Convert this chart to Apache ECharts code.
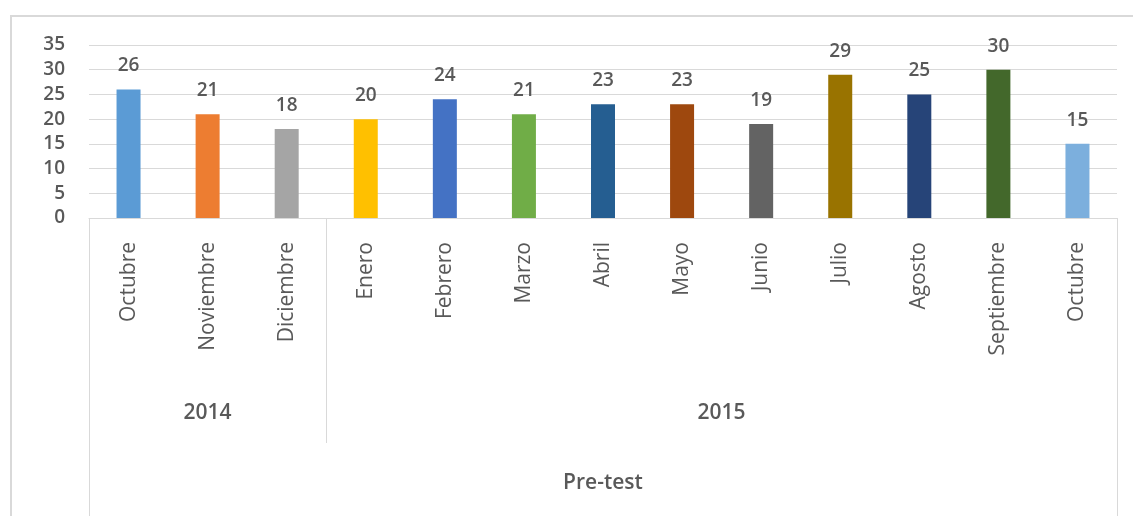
<!DOCTYPE html>
<html>
<head>
<meta charset="utf-8">
<script src="https://cdn.jsdelivr.net/npm/echarts@6/dist/echarts.min.js"></script>
<style>
html,body{margin:0;padding:0;background:#fff;}
#chart{width:1133px;height:516px;}
</style>
</head>
<body>
<div id="chart"></div>
<script>
const months = ['Octubre','Noviembre','Diciembre','Enero','Febrero','Marzo','Abril','Mayo','Junio','Julio','Agosto','Septiembre','Octubre'];
const values = [26, 21, 18, 20, 24, 21, 23, 23, 19, 29, 25, 30, 15];
const colors = ['#5B9BD5','#ED7D31','#A5A5A5','#FFC000','#4472C4','#70AD47','#255E91','#9E480E','#636363','#997300','#264478','#43682B','#7CAFDD'];
const years = ['2014','2015'];
const yearSpans = [3, 10];
const groupLabel = 'Pre-test';
const yTicks = [0, 5, 10, 15, 20, 25, 30, 35];

const FONT = '"Open Sans", sans-serif';
const TXT = '#595959';
const LINE = '#d9d9d9';

const chart = echarts.init(document.getElementById('chart'), null, {renderer: 'canvas'});
const option = {
  animation: false,
  backgroundColor: '#fff',
  grid: {left: 89, right: 16, top: 45, bottom: 298, containLabel: false},
  xAxis: {
    type: 'category',
    data: months,
    axisTick: {show: false},
    axisLine: {lineStyle: {color: LINE, width: 1}},
    axisLabel: {rotate: 90, margin: 24, fontSize: 21, color: TXT, fontFamily: FONT, interval: 0}
  },
  yAxis: {
    type: 'value',
    min: yTicks[0],
    max: yTicks[yTicks.length - 1],
    interval: 5,
    axisLine: {show: false},
    axisTick: {show: false},
    splitLine: {lineStyle: {color: LINE, width: 1}},
    axisLabel: {margin: 24, fontSize: 19, color: TXT, fontFamily: FONT, fontWeight: 600}
  },
  series: [{
    type: 'bar',
    barWidth: 24,
    data: values.map((v, i) => ({value: v, itemStyle: {color: colors[i]}})),
    label: {show: true, position: 'top', distance: 14, fontSize: 19, fontWeight: 600, color: TXT, fontFamily: FONT}
  }]
};
chart.setOption(option);

// hierarchical axis decorations positioned through the category scale
const px = i => chart.convertToPixel({xAxisIndex: 0}, i);
const bw = px(1) - px(0);
const edge = k => px(0) - bw / 2 + k * bw;
const y0 = chart.convertToPixel({yAxisIndex: 0}, 0);
const elements = [];
// outer chart border (top & left visible)
elements.push({type: 'rect', shape: {x: 11, y: 16, width: 1200, height: 600}, style: {fill: null, stroke: LINE, lineWidth: 2}, silent: true});
// group boundaries
let start = 0;
const bounds = [0];
yearSpans.forEach(s => { start += s; bounds.push(start); });
bounds.forEach((b, idx) => {
  const outer = idx === 0 || idx === bounds.length - 1;
  const x = Math.round(edge(b)) + 0.5;
  elements.push({type: 'line', shape: {x1: x, y1: y0, x2: x, y2: outer ? 516 : 443}, style: {stroke: LINE, lineWidth: 1}, silent: true});
});
years.forEach((yr, i) => {
  const cx = (edge(bounds[i]) + edge(bounds[i + 1])) / 2;
  elements.push({type: 'text', x: cx, y: 413, style: {text: yr, fill: TXT, font: '600 21px ' + FONT, align: 'center', verticalAlign: 'middle'}, silent: true});
});
elements.push({type: 'text', x: (edge(0) + edge(months.length)) / 2, y: 483, style: {text: groupLabel, fill: TXT, font: '600 21px ' + FONT, align: 'center', verticalAlign: 'middle'}, silent: true});
chart.setOption({graphic: {elements: elements}});
</script>
</body>
</html>
